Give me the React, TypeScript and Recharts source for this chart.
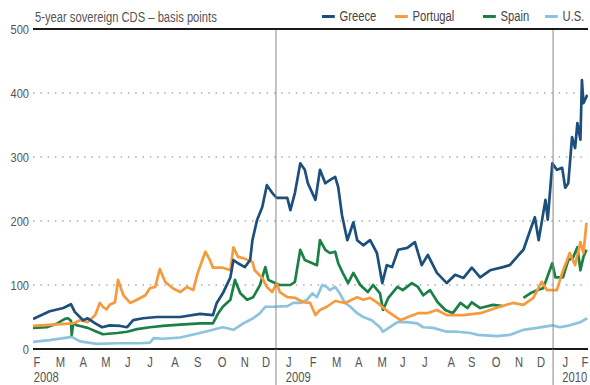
import React from "react";
import {
  CartesianGrid,
  Line,
  LineChart,
  ReferenceLine,
  XAxis,
  YAxis,
} from "recharts";

// x values are days counted from 1 Jan 2008 (1 Jan 2009 = 366, 1 Jan 2010 = 731)
const greeceDays = [
  46, 68, 86, 96, 101, 112, 118, 128, 137, 147, 161, 170, 178, 191, 209, 217,
  240, 266, 283, 288, 296, 306, 310, 316, 325, 332, 335, 341, 348, 354, 361,
  367, 381, 385, 391, 398, 404, 408, 418, 424, 431, 437, 444, 448, 453, 460,
  468, 473, 481, 490, 499, 506, 512, 519, 527, 539, 549, 558, 566, 578, 591,
  602, 613, 624, 635, 648, 665, 674, 688, 692, 701, 707, 712, 721, 724, 730,
  736, 743, 747, 751, 756, 760, 763, 767, 769, 771, 776,
];
const greeceBps = [
  47, 59, 64, 70, 58, 45, 48, 40, 34, 37, 36, 34, 45, 48, 50, 50, 50, 55, 53,
  72, 87, 112, 139, 134, 128, 139, 170, 201, 222, 256, 244, 236, 236, 217, 244,
  290, 280, 259, 233, 280, 259, 264, 269, 253, 209, 170, 198, 170, 162, 170,
  150, 103, 131, 128, 155, 158, 167, 131, 147, 119, 103, 116, 111, 127, 112,
  123, 128, 131, 150, 155, 186, 206, 170, 233, 202, 290, 280, 283, 252, 259,
  331, 314, 353, 327, 420, 384, 397,
];

const portugalDays = [
  46, 99, 108, 118, 128, 134, 138, 143, 147, 154, 158, 165, 174, 183, 194, 200,
  207, 213, 220, 230, 240, 249, 257, 263, 273, 279, 283, 296, 306, 310, 316,
  323, 335, 338, 348, 354, 361, 367, 371, 381, 391, 402, 411, 418, 424, 433,
  444, 457, 473, 481, 490, 500, 514, 530, 540, 553, 565, 578, 591, 613, 635,
  661, 678, 692, 705, 716, 723, 736, 743, 753, 760, 767, 771, 775,
];
const portugalBps = [
  36, 40, 45, 42, 53, 72, 66, 62, 69, 73, 108, 84, 72, 77, 84, 95, 97, 125, 105,
  95, 89, 97, 92, 119, 152, 139, 127, 127, 123, 159, 144, 142, 136, 123, 111,
  97, 89, 103, 89, 81, 80, 73, 72, 53, 61, 66, 75, 72, 81, 77, 80, 72, 58, 45,
  50, 56, 56, 61, 53, 53, 56, 66, 72, 69, 80, 105, 92, 92, 119, 150, 131, 167,
  150, 197,
];

const spainDays = [
  46, 64, 78, 88, 92, 96, 97, 99, 104, 108, 118, 130, 138, 157, 170, 183, 200,
  217, 240, 266, 283, 290, 296, 306, 312, 319, 328, 336, 345, 352, 356, 361,
  371, 385, 391, 398, 404, 414, 420, 424, 431, 437, 444, 448, 454, 461, 468,
  477, 487, 494, 503, 507, 514, 526, 533, 545, 553, 560, 569, 579, 589, 599,
  609, 618, 624, 635, 652, 665, 678, 692, 701, 710, 718, 730, 734, 744, 751,
  757, 763, 767, 771, 775,
];
const spainBps = [
  33, 34, 40, 47, 48, 44, 22, 40, 37, 36, 33, 27, 23, 25, 27, 31, 34, 36, 38,
  40, 40, 56, 66, 77, 108, 87, 77, 81, 100, 128, 108, 105, 100, 100, 105, 155,
  139, 134, 131, 170, 155, 150, 152, 134, 119, 103, 119, 100, 89, 100, 87, 61,
  80, 97, 92, 103, 97, 84, 92, 73, 61, 56, 72, 64, 73, 64, 69, 67, null, 80, 87,
  92, 95, 134, 112, 112, 139, 142, 159, 123, 144, 155,
];

const usDays = [
  46, 68, 86, 97, 108, 130, 157, 187, 200, 205, 217, 240, 266, 283, 296, 310,
  323, 336, 345, 352, 362, 381, 389, 398, 407, 414, 420, 427, 433, 437, 444,
  450, 457, 464, 473, 481, 492, 503, 507, 516, 526, 539, 552, 560, 573, 591,
  605, 622, 632, 657, 674, 692, 710, 730, 740, 753, 767, 776,
];
const usBps = [
  11, 14, 17, 19, 12, 8, 9, 9, 10, 17, 16, 18, 25, 30, 34, 30, 40, 48, 56, 66,
  66, 67, 72, 72, 77, 87, 81, 100, 97, 92, 97, 87, 72, 66, 56, 50, 45, 34, 27,
  34, 42, 42, 40, 34, 33, 27, 27, 25, 22, 20, 22, 30, 33, 37, 34, 37, 42, 48,
];

const monthTicks = [
  51, 82, 112, 142, 171, 200, 233, 263, 295, 325, 353, 383, 415, 446, 475, 506,
  533, 562, 597, 624, 656, 686, 715, 747, 773,
];
const monthLabels = [
  "F", "M", "A", "M", "J", "J", "A", "S", "O", "N", "D",
  "J", "F", "M", "A", "M", "J", "J", "A", "S", "O", "N", "D",
  "J", "F",
];
const yearLabels: { [i: number]: string } = { 0: "2008", 11: "2009", 23: "2010" };
const yearBreaks = [366, 731];
const yTicks = [0, 100, 200, 300, 400, 500];

const zip = (days: number[], bps: (number | null)[]) =>
  days.map((d, i) => ({ d, v: bps[i] }));

const series = [
  { name: "Greece", color: "#1c4f7c", data: zip(greeceDays, greeceBps) },
  { name: "Portugal", color: "#f79a3e", data: zip(portugalDays, portugalBps) },
  { name: "Spain", color: "#1b8046", data: zip(spainDays, spainBps) },
  { name: "U.S.", color: "#8cc3de", data: zip(usDays, usBps) },
];

const FONT = "'Liberation Sans', Arial, sans-serif";
const TEXT = "#555";

const XTick = (props: any) => {
  const { x, y, payload } = props;
  const i = monthTicks.indexOf(payload.value);
  if (i < 0) {
    return <line x1={x} y1={y} x2={x} y2={y + 40} stroke="#888" strokeWidth={1} />;
  }
  return (
    <g>
      <text
        transform={`translate(${x},${y + 18}) scale(0.8,1)`}
        textAnchor="middle"
        fontSize={14}
        fontFamily={FONT}
        fill={TEXT}
      >
        {monthLabels[i]}
      </text>
      {yearLabels[i] && (
        <text
          transform={`translate(${x - 3},${y + 33}) scale(0.8,1)`}
          fontSize={14}
          fontFamily={FONT}
          fill={TEXT}
        >
          {yearLabels[i]}
        </text>
      )}
    </g>
  );
};

const YTick = (props: any) => {
  const { x, y, payload } = props;
  return (
    <text
      transform={`translate(${x},${y + 4.5}) scale(0.85,1)`}
      textAnchor="end"
      fontSize={13}
      fontFamily={FONT}
      fill={TEXT}
    >
      {payload.value}
    </text>
  );
};

const legendLeft = [322, 395, 483, 545];

const App = () => {
  return (
    <div
      style={{
        position: "absolute",
        left: 0,
        top: 0,
        width: 590,
        height: 385,
        background: "#fff",
        fontFamily: FONT,
      }}
    >
      <div
        style={{
          position: "absolute",
          left: 35,
          top: 9,
          fontSize: 14,
          lineHeight: "16px",
          color: TEXT,
          whiteSpace: "nowrap",
          transform: "scaleX(0.8)",
          transformOrigin: "0 0",
        }}
      >
        5-year sovereign CDS – basis points
      </div>
      {series.map((s, i) => (
        <div
          key={s.name}
          style={{
            position: "absolute",
            left: legendLeft[i],
            top: 8,
            display: "flex",
            alignItems: "center",
            fontSize: 14,
            lineHeight: "16px",
            color: "#444",
            whiteSpace: "nowrap",
            transform: "scaleX(0.8)",
            transformOrigin: "0 0",
          }}
        >
          <span
            style={{
              display: "inline-block",
              width: 16,
              height: 3,
              background: s.color,
              marginRight: 6,
            }}
          />
          {s.name}
        </div>
      ))}
      <LineChart
        width={590}
        height={385}
        margin={{ top: 29, right: 2, left: 0, bottom: 0 }}
      >
        <CartesianGrid
          vertical={false}
          stroke="#aaa"
          strokeWidth={1.5}
          strokeDasharray="1.5 5.8"
        />
        <XAxis
          type="number"
          dataKey="d"
          domain={[46, 777]}
          allowDataOverflow
          ticks={[...monthTicks, ...yearBreaks]}
          interval={0}
          tick={<XTick />}
          tickLine={false}
          axisLine={false}
          tickSize={0}
          tickMargin={0}
          height={36}
        />
        <YAxis
          type="number"
          domain={[0, 500]}
          ticks={yTicks}
          tick={<YTick />}
          tickLine={false}
          axisLine={false}
          tickSize={0}
          tickMargin={4}
          width={33}
        />
        {[...series].reverse().map((s) => (
          <Line
            key={s.name}
            data={s.data}
            dataKey="v"
            name={s.name}
            type="linear"
            stroke={s.color}
            strokeWidth={2.7}
            strokeLinejoin="round"
            dot={false}
            activeDot={false}
            isAnimationActive={false}
          />
        ))}
        {yearBreaks.map((d) => (
          <ReferenceLine key={d} x={d} stroke="#888" strokeWidth={1} />
        ))}
        <ReferenceLine y={500} stroke="#1a1a1a" strokeWidth={2} />
        <ReferenceLine y={0} stroke="#1a1a1a" strokeWidth={2} />
      </LineChart>
    </div>
  );
};

export default App;
